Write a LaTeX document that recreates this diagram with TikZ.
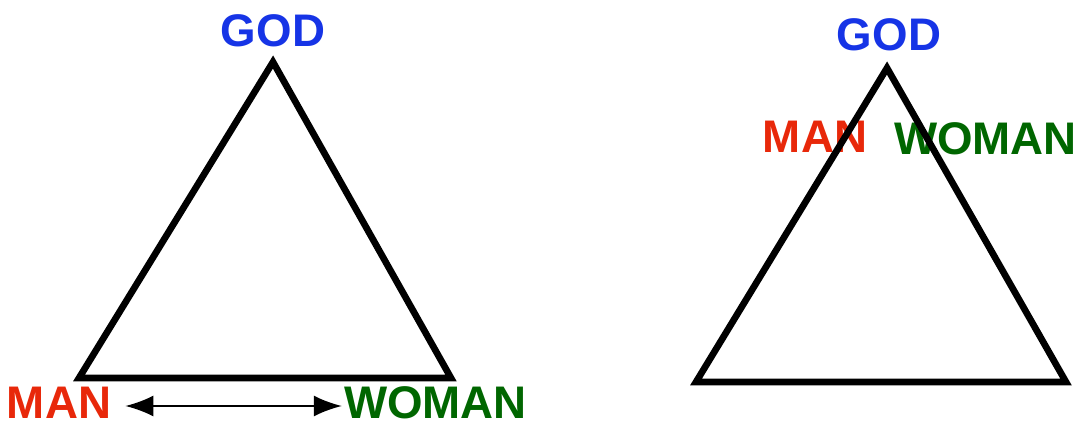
\documentclass[tikz,border=0pt]{standalone}
\usepackage{fontspec}
\setmainfont{Liberation Sans}
\usetikzlibrary{arrows.meta,positioning}
\definecolor{godblue}{RGB}{22,52,230}
\definecolor{manred}{RGB}{232,40,10}
\definecolor{womangreen}{RGB}{0,102,0}

\begin{document}
\begin{tikzpicture}[font=\fontsize{26}{30}\selectfont\bfseries,
  tri/.style={line width=3.8pt,line join=miter},
  god/.style={text=godblue,inner sep=0pt},
  man/.style={text=manred,inner sep=0pt},
  woman/.style={text=womangreen,inner sep=0pt}]
\useasboundingbox (0,0) rectangle (21.6,8.46);
% left triangle: man and woman joined below god
\coordinate (apexL) at (5.46,7.22);
\coordinate (leftL) at (1.58,0.90);
\coordinate (rightL) at (9.02,0.90);
\node[god] (godL) at (5.46,7.84) {GOD};
\node[man] (manL) at (1.18,0.40) {MAN};
\node[woman] (womanL) at (8.71,0.40) {WOMAN};
\draw[tri] (apexL) -- (rightL) -- (leftL) -- cycle;
\draw[{Latex[length=5.6mm,width=4.2mm]}-{Latex[length=5.6mm,width=4.2mm]},line width=1.1pt,
  shorten <=2.8mm,shorten >=0.4mm] (manL.east|-0,0.34) -- (womanL.west|-0,0.34);
% right triangle: man and woman close to god
\coordinate (apexR) at (17.74,7.10);
\coordinate (leftR) at (13.92,0.82);
\coordinate (rightR) at (21.32,0.82);
\node[god] (godR) at (17.78,7.76) {GOD};
\node[man] (manR) at (16.30,5.72) {MAN};
\node[woman] (womanR) at (19.71,5.68) {WOMAN};
\draw[tri] (apexR) -- (rightR) -- (leftR) -- cycle;
\end{tikzpicture}
\end{document}
